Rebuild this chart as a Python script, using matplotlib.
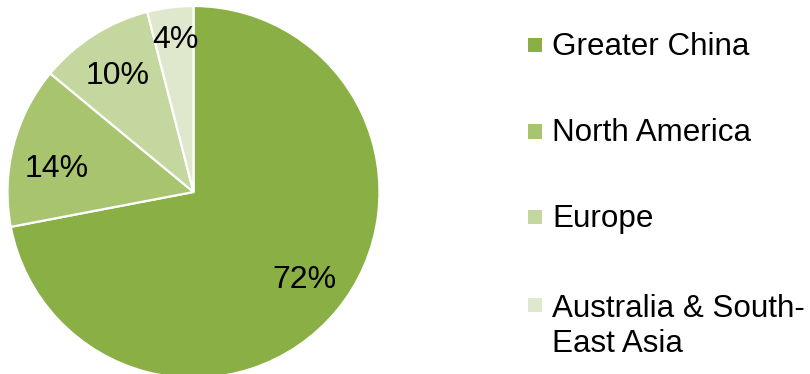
import numpy as np
import matplotlib
matplotlib.use("Agg")
import matplotlib.pyplot as plt
from matplotlib.patches import Rectangle

regions = ["Greater China", "North America", "Europe", "Australia & South-\nEast Asia"]
shares = [72, 14, 10, 4]
colors = ["#8AB045", "#A9C46F", "#C4D79E", "#DFE8CD"]

plt.rcParams["font.family"] = ["Liberation Sans", "DejaVu Sans"]

W, H = 810, 374
fig = plt.figure(figsize=(W / 100, H / 100), dpi=100)
fig.patch.set_facecolor("white")

# pie axes: centre (193.5, 192) px, radius 186 px
cx, cy, r = 193.5, 192, 186
ax = fig.add_axes([(cx - r) / W, (H - cy - r) / H, 2 * r / W, 2 * r / H])
wedges, texts, autotexts = ax.pie(
    shares,
    colors=colors,
    startangle=90,
    counterclock=False,
    autopct=lambda p: f"{p:.0f}%",
    pctdistance=0.76,
    wedgeprops=dict(edgecolor="white", linewidth=1.6),
    textprops=dict(fontsize=23, color="black"),
)

# nudge percentage labels (radius, angle offset in degrees)
label_r = [0.75, 0.75, 0.76, 0.84]
label_dtheta = [2.4, 3.5, 0.0, -0.4]
for w, t, lr, dth in zip(wedges, autotexts, label_r, label_dtheta):
    mid = np.deg2rad((w.theta1 + w.theta2) / 2 + dth)
    t.set_position((lr * np.cos(mid), lr * np.sin(mid)))
    t.set_va("center_baseline")

ax.set_xlim(-1, 1)
ax.set_ylim(-1, 1)
ax.set_aspect("equal")
ax.axis("off")

# legend drawn as squares and labels down the right side
x_sq, x_txt = 528, 552
baselines = [55, 141.5, 226.5, 315]
line_h = 36.7
sq = 14
for label, color, yb in zip(regions, colors, baselines):
    yc = yb - 10
    fig.patches.append(Rectangle((x_sq / W, (H - yc - sq / 2) / H), sq / W, sq / H,
                                 transform=fig.transFigure, facecolor=color,
                                 edgecolor="none"))
    n_extra = label.count("\n")
    fig.text(x_txt / W, (H - yb - n_extra * line_h) / H, label, fontsize=22.6,
             va="baseline", ha="left", linespacing=1.22, color="black")

fig.savefig("out.png", dpi=100)
